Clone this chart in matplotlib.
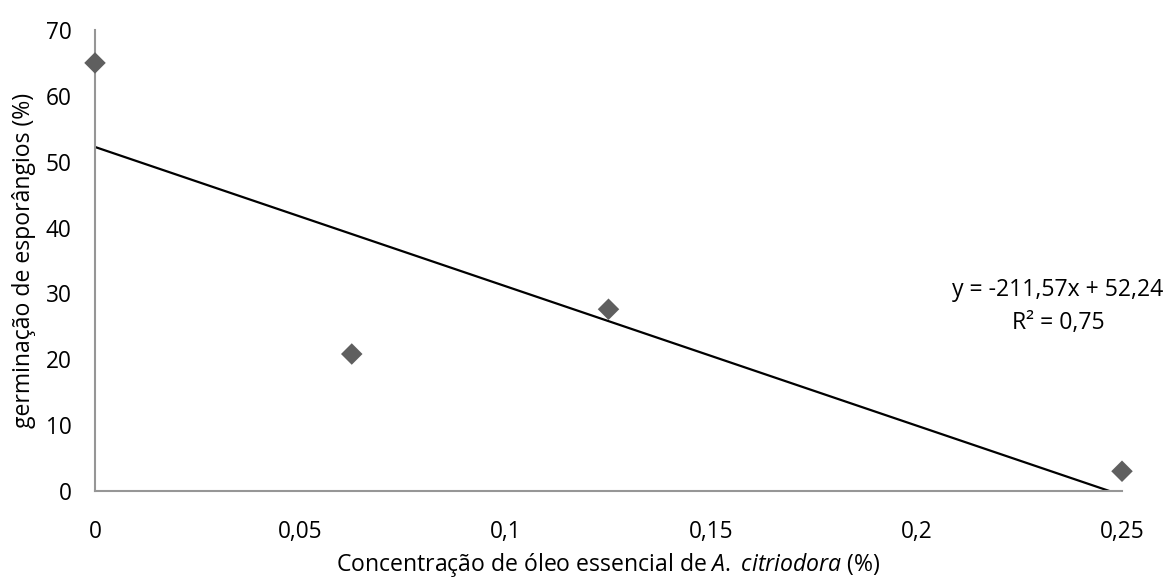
import numpy as np
import matplotlib
matplotlib.use("Agg")
import matplotlib.pyplot as plt

plt.rcParams['font.family'] = ['Open Sans', 'DejaVu Sans']
plt.rcParams['mathtext.fontset'] = 'custom'
plt.rcParams['mathtext.rm'] = 'Open Sans'
plt.rcParams['mathtext.it'] = 'Open Sans:italic'

# Data
concentracao = [0.0, 0.0625, 0.125, 0.25]
germinacao = [65.0, 20.8, 27.6, 3.0]
x_ticks = [0, 0.05, 0.1, 0.15, 0.2, 0.25]
x_tick_labels = ['0', '0,05', '0,1', '0,15', '0,2', '0,25']
y_ticks = [0, 10, 20, 30, 40, 50, 60, 70]
equation_text = 'y = -211,57x + 52,24'
r2_text = 'R² = 0,75'

fig = plt.figure(figsize=(11.68, 5.78), dpi=100)
ax = fig.add_axes([95/1168, 1-491/578, (1122-95)/1168, (491-30)/578])

slope, intercept = np.polyfit(concentracao, germinacao, 1)
xl = np.linspace(0, max(concentracao), 400)
yl = slope*xl + intercept
mask = yl >= 0
ax.plot(xl[mask], yl[mask], color='black', lw=1.6, zorder=2)

ax.scatter(concentracao, germinacao, marker='D', s=120, color='#5f5f5f',
           edgecolors='none', zorder=3, clip_on=False)

ax.set_xlim(0, 0.25)
ax.set_ylim(0, 70)
ax.set_xticks(x_ticks)
ax.set_xticklabels(x_tick_labels)
ax.set_yticks(y_ticks)
ax.tick_params(length=0, labelsize=16.3, colors='black')
ax.tick_params(axis='y', pad=17)
ax.tick_params(axis='x', pad=21)
for s in ['top', 'right']:
    ax.spines[s].set_visible(False)
for s in ['left', 'bottom']:
    ax.spines[s].set_color('#969696')
    ax.spines[s].set_linewidth(1.5)

ax.set_xlabel('Concentração de óleo essencial de $\\mathit{A.}$ $\\mathit{citriodora}$ (%)',
              fontsize=16.6, va='center')
ax.xaxis.set_label_coords(0.5, (491-565)/461)
ax.set_ylabel('germinação de esporângios (%)', fontsize=16.6, va='center')
ax.yaxis.set_label_coords((24-95)/1027, 0.5)

ax.text(0.2344, 30.5, equation_text, fontsize=16.6, ha='center', va='center')
ax.text(0.2344, 25.5, r2_text, fontsize=16.6, ha='center', va='center')

fig.savefig('out.png', dpi=100)
